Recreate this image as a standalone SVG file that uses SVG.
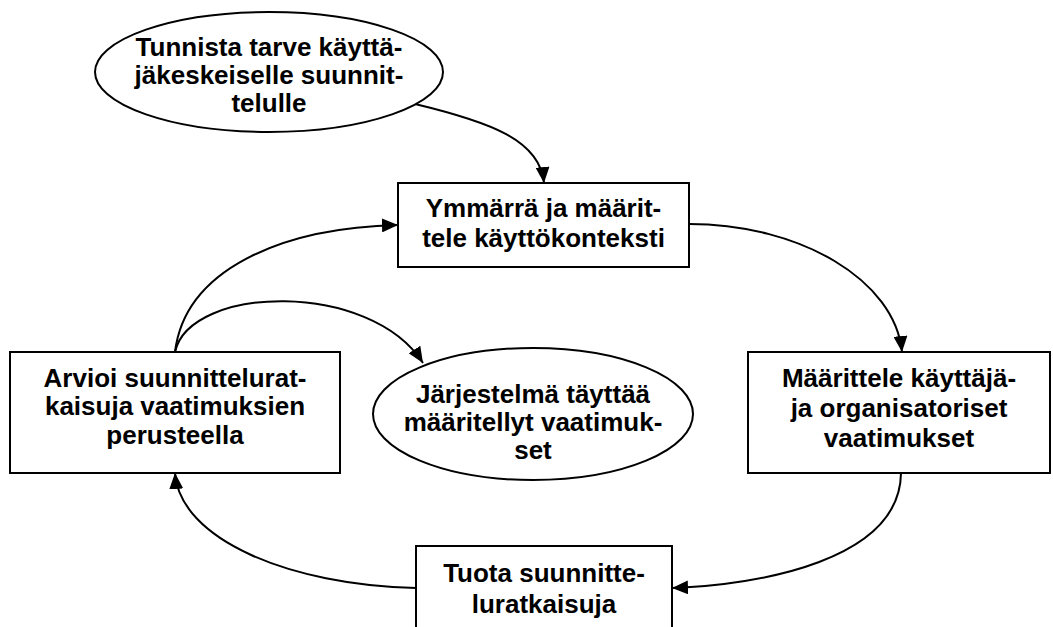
<svg xmlns="http://www.w3.org/2000/svg" width="1053" height="627" viewBox="0 0 1053 627">
<defs>
<marker id="ah" markerUnits="userSpaceOnUse" markerWidth="16" markerHeight="14" viewBox="0 0 16 14" refX="16" refY="7" orient="auto">
<path d="M0,0 L16,7 L0,14 z" fill="#000"/>
</marker>
<style>
.shape{fill:#fff;stroke:#000;stroke-width:2}
.lbl{font-family:"Liberation Sans",Arial,Helvetica,sans-serif;font-weight:bold;font-size:26px;fill:#000;text-anchor:middle}
.conn{fill:none;stroke:#000;stroke-width:2;marker-end:url(#ah)}
</style>
</defs>
<rect width="1053" height="627" fill="#fff"/>
<g id="connectors">
<path class="conn" d="M415,104 C490,122 540,140 544,183"/>
<path class="conn" d="M689,224 C800,224 895,280 902,352"/>
<path class="conn" d="M901,473 C900,560 760,585 672,588"/>
<path class="conn" d="M416,588 C290,585 180,540 175,473"/>
<path class="conn" d="M175,352 C185,270 280,228 398,225"/>
<path class="conn" d="M175,352 C190,285 370,280 423,363"/>
</g>
<g id="n-tunnista">
<ellipse class="shape" cx="269" cy="72" rx="174" ry="60"/>
<text class="lbl" x="269" y="56">Tunnista tarve käyttä-</text>
<text class="lbl" x="269" y="84">jäkeskeiselle suunnit-</text>
<text class="lbl" x="269" y="112">telulle</text>
</g>
<g id="n-ymmarra">
<rect class="shape" x="398" y="183" width="291" height="84"/>
<text class="lbl" x="543.5" y="217">Ymmärrä ja määrit-</text>
<text class="lbl" x="543.5" y="247">tele käyttökonteksti</text>
</g>
<g id="n-maarittele">
<rect class="shape" x="748" y="352" width="302" height="121"/>
<text class="lbl" x="899" y="387">Määrittele käyttäjä-</text>
<text class="lbl" x="899" y="417">ja organisatoriset</text>
<text class="lbl" x="899" y="447">vaatimukset</text>
</g>
<g id="n-tuota">
<rect class="shape" x="416" y="546" width="256" height="100"/>
<text class="lbl" x="544" y="582">Tuota suunnitte-</text>
<text class="lbl" x="544" y="613">luratkaisuja</text>
</g>
<g id="n-arvioi">
<rect class="shape" x="10" y="352" width="330" height="121"/>
<text class="lbl" x="175" y="387">Arvioi suunnittelurat-</text>
<text class="lbl" x="175" y="415">kaisuja vaatimuksien</text>
<text class="lbl" x="175" y="444">perusteella</text>
</g>
<g id="n-jarjestelma">
<ellipse class="shape" cx="533" cy="414" rx="160" ry="66"/>
<text class="lbl" x="533" y="403">Järjestelmä täyttää</text>
<text class="lbl" x="533" y="431">määritellyt vaatimuk-</text>
<text class="lbl" x="533" y="459">set</text>
</g>
</svg>
